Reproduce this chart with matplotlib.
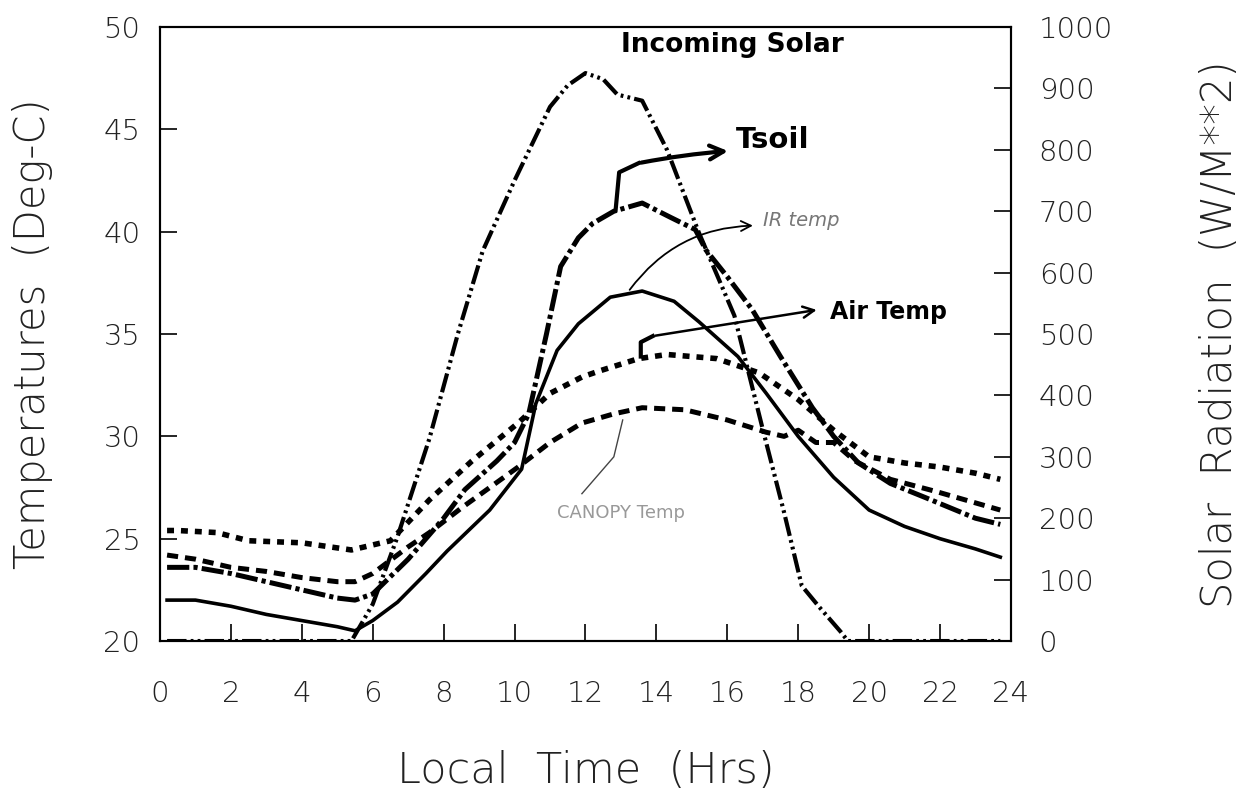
import matplotlib
matplotlib.use("Agg")
import matplotlib.pyplot as plt

plt.rcParams['lines.scale_dashes'] = False

# ---- data ----
t_solar = [0.2, 1, 2, 3, 4, 5, 5.4, 6, 6.7, 7.6, 8.4, 9.1, 10, 11, 11.5, 12, 12.5, 12.9,
           13.6, 14.3, 15.2, 16.2, 17, 17.6, 18.1, 18.6, 19.2, 19.4, 20, 21, 22, 23, 23.7]
solar = [0, 0, 0, 0, 0, 0, 0, 60, 170, 330, 500, 635, 750, 870, 905, 925, 915, 890,
         880, 800, 665, 530, 345, 210, 90, 55, 15, 0, 0, 0, 0, 0, 0]

t_ir = [0.2, 1, 2, 3, 4, 5, 5.5, 6, 6.7, 7.5, 8.1, 9.3, 10.2, 10.6, 11.2, 11.8,
        12.7, 13.6, 14.5, 15.2, 16.3, 17.1, 18, 19, 20, 21, 22, 23, 23.7]
ir_temp = [22.0, 22.0, 21.7, 21.3, 21.0, 20.7, 20.5, 21.0, 21.9, 23.3, 24.4, 26.4,
           28.4, 31.6, 34.2, 35.5, 36.8, 37.1, 36.6, 35.6, 33.9, 32.1, 30.0, 28.0,
           26.4, 25.6, 25.0, 24.5, 24.1]

t_soil = [0.2, 1, 2, 3, 4, 5, 5.5, 6, 7, 8, 8.6, 9.5, 10, 10.4, 10.9, 11.3, 11.8,
          12.2, 12.8, 13.6, 14.4, 15.1, 15.4, 16, 16.7, 17.5, 18.4, 19, 19.7, 20.6,
          21.6, 23, 23.7]
tsoil = [23.6, 23.6, 23.3, 22.9, 22.5, 22.1, 22.0, 22.3, 24.0, 26.0, 27.4, 28.8,
         29.7, 31.1, 35.0, 38.3, 39.7, 40.4, 41.0, 41.4, 40.7, 40.1, 39.1, 37.8,
         36.2, 33.9, 31.4, 30.0, 28.7, 27.7, 27.0, 26.0, 25.7]

t_canopy = [0.2, 1, 2, 3, 4, 5, 5.5, 6, 7, 7.6, 8.5, 9.3, 10.1, 11, 11.9, 12.8,
            13.6, 14.8, 16, 17.1, 17.6, 18, 18.5, 19, 19.6, 20.6, 21.9, 23.5, 23.7]
canopy = [24.2, 24.0, 23.6, 23.4, 23.1, 22.9, 22.9, 23.3, 24.6, 25.3, 26.5, 27.5,
          28.5, 29.7, 30.65, 31.1, 31.4, 31.3, 30.8, 30.2, 30.0, 30.3, 29.7, 29.7,
          28.8, 27.9, 27.3, 26.5, 26.4]

t_air = [0.2, 0.5, 1.6, 2.5, 4, 5.4, 6.5, 7.6, 8.8, 10.1, 11, 11.9, 12.4, 13.5,
         14.3, 15.7, 16.9, 18, 19, 20, 21, 22, 23, 23.7]
air = [25.4, 25.4, 25.3, 24.9, 24.8, 24.45, 24.9, 26.9, 28.8, 30.65, 32.1, 32.9,
       33.2, 33.8, 34.0, 33.8, 33.1, 31.8, 30.3, 29.0, 28.7, 28.5, 28.2, 27.9]

x_ticks = list(range(0, 25, 2))
t_ticks = [20, 25, 30, 35, 40, 45, 50]
s_ticks = list(range(0, 1001, 100))

thin = dict(family='DejaVu Sans', fontweight='light')

fig = plt.figure(figsize=(12.45, 8.02), dpi=100)
ax = fig.add_axes([0.1285, 0.2007, 0.6835, 0.7656])
ax2 = ax.twinx()

ax.plot(t_ir, ir_temp, color='black', lw=2.6)
ax.plot(t_soil, tsoil, color='black', lw=3.6, dashes=(16, 3, 3, 3))
ax.plot(t_canopy, canopy, color='black', lw=3.6, dashes=(8, 5))
ax.plot(t_air, air, color='black', lw=4, dashes=(5, 5))
ax2.plot(t_solar, solar, color='black', lw=3, dashes=(14, 3, 2, 3, 2, 3))

ax.set_xlim(0, 24)
ax.set_ylim(20, 50)
ax2.set_ylim(0, 1000)

ax.set_xticks(x_ticks)
ax.set_yticks(t_ticks)
ax2.set_yticks(s_ticks)
ax.tick_params(axis='x', direction='in', length=12, width=1.2, pad=28, labelsize=21)
ax.tick_params(axis='y', direction='in', length=12, width=1.2, pad=14, labelsize=21)
ax2.tick_params(axis='y', direction='in', length=12, width=1.2, pad=20, labelsize=21)
for lab in ax.get_xticklabels() + ax.get_yticklabels() + ax2.get_yticklabels():
    lab.set_fontweight('light')
    lab.set_color('#222222')
for a in (ax, ax2):
    for s in a.spines.values():
        s.set_linewidth(1.5)

ax.set_xlabel('Local  Time  (Hrs)', fontsize=31, labelpad=30, color='#222222', **thin)
ax.set_ylabel('Temperatures  (Deg-C)', fontsize=30, labelpad=36, color='#222222', **thin)
ax2.set_ylabel('Solar  Radiation  (W/M**2)', fontsize=30, labelpad=62, color='#222222', **thin)

# hand-drawn style labels and arrows
hand = dict(family='DejaVu Sans', fontweight='bold', color='black')
ax.text(13.0, 49.1, 'Incoming Solar', fontsize=19, va='center', **hand)
ax.text(16.25, 44.5, 'Tsoil', fontsize=21, va='center', **hand)
ax.text(18.9, 36.1, 'Air Temp', fontsize=17, va='center', **hand)
ax.text(17.0, 40.55, 'IR temp', fontsize=14, va='center', color='#777777', style='italic')
ax.text(11.2, 26.25, 'CANOPY Temp', fontsize=13, va='center', color='#999999')

ax.plot([12.85, 12.95, 13.5], [41.05, 42.9, 43.35], color='black', lw=3)
ax.annotate('', xy=(16.1, 43.95), xytext=(13.5, 43.35),
            arrowprops=dict(arrowstyle='->', lw=3, color='black',
                            connectionstyle='arc3,rad=-0.03', mutation_scale=25))
ax.annotate('', xy=(16.8, 40.3), xytext=(13.2, 37.05),
            arrowprops=dict(arrowstyle='->', lw=1.3, color='black',
                            connectionstyle='arc3,rad=-0.25', mutation_scale=18))
ax.plot([13.56, 13.56, 13.9], [33.9, 34.6, 34.9], color='black', lw=3)
ax.annotate('', xy=(18.6, 36.2), xytext=(13.9, 34.9),
            arrowprops=dict(arrowstyle='->', lw=1.8, color='black', mutation_scale=20))
ax.plot([13.05, 12.8, 11.9], [30.8, 29.0, 27.2], color='#444444', lw=1)

fig.savefig('out.png', dpi=100)
